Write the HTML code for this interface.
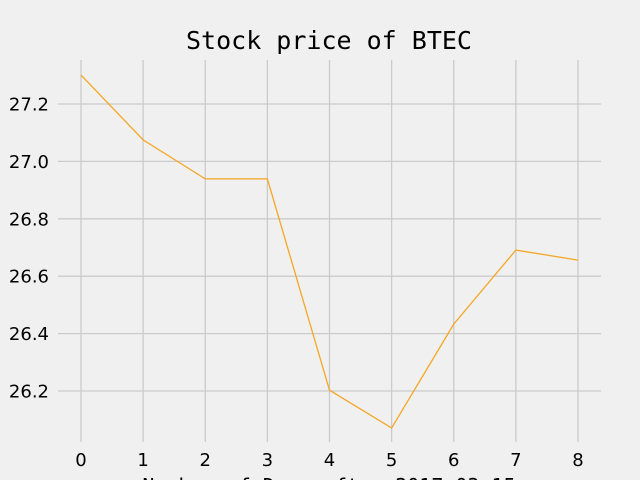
<!DOCTYPE html>
<html><head><meta charset="utf-8"><style>
html,body{margin:0;padding:0;background:#f0f0f0;width:640px;height:480px;overflow:hidden}
svg text{font-family:"DejaVu Sans","Liberation Sans",sans-serif}
</style></head><body>
<svg id="chart" width="640" height="480" xmlns="http://www.w3.org/2000/svg">
<rect width="640" height="480" fill="#f0f0f0"/>
<g id="grid"></g>
<g id="ticks"></g>
<polyline id="line" fill="none" stroke="#f5a623" stroke-width="1.3"/>
<text x="329" y="49" text-anchor="middle" font-size="25" style="font-family:'DejaVu Sans Mono','Liberation Mono',monospace">Stock price of BTEC</text>
<text x="329" y="493" text-anchor="middle" font-size="20" style="font-family:'DejaVu Sans Mono','Liberation Mono',monospace">Number of Days after 2017-03-15</text>
<text transform="translate(-6,180) rotate(-90)" text-anchor="middle" font-size="18" style="font-family:'DejaVu Sans Mono','Liberation Mono',monospace">Price</text>
</svg>
<script>
const days=[0,1,2,3,4,5,6,7,8];
const prices=[27.301,27.075,26.939,26.939,26.203,26.071,26.433,26.691,26.656];
const xTicks=[0,1,2,3,4,5,6,7,8];
const yTicks=[26.2,26.4,26.6,26.8,27.0,27.2];
const xs=d=>81+d*62.125;
const ys=v=>104+(27.2-v)*287;
const NS="http://www.w3.org/2000/svg";
const grid=document.getElementById('grid'),ticks=document.getElementById('ticks');
function mk(tag,attrs,parent){const e=document.createElementNS(NS,tag);for(const k in attrs)e.setAttribute(k,attrs[k]);parent.appendChild(e);return e;}
xTicks.forEach(t=>{
  const l=mk('line',{x1:xs(t),x2:xs(t),y1:60,y2:442,stroke:'#cbcbcb','stroke-width':1.3},grid);
  
  
  const tx=mk('text',{x:xs(t),y:466,'text-anchor':'middle','font-size':18},ticks);
  tx.textContent=t;
  
  
});
yTicks.forEach(t=>{
  const l=mk('line',{x1:58,x2:601,y1:ys(t),y2:ys(t),stroke:'#cbcbcb','stroke-width':1.3},grid);
  
  
  const tx=mk('text',{x:49,y:ys(t)+6.5,'text-anchor':'end','font-size':18},ticks);
  tx.textContent=t.toFixed(1);
  
  
});
document.getElementById('line').setAttribute('points',days.map((d,i)=>xs(d)+','+ys(prices[i])).join(' '));
</script>
</body></html>
